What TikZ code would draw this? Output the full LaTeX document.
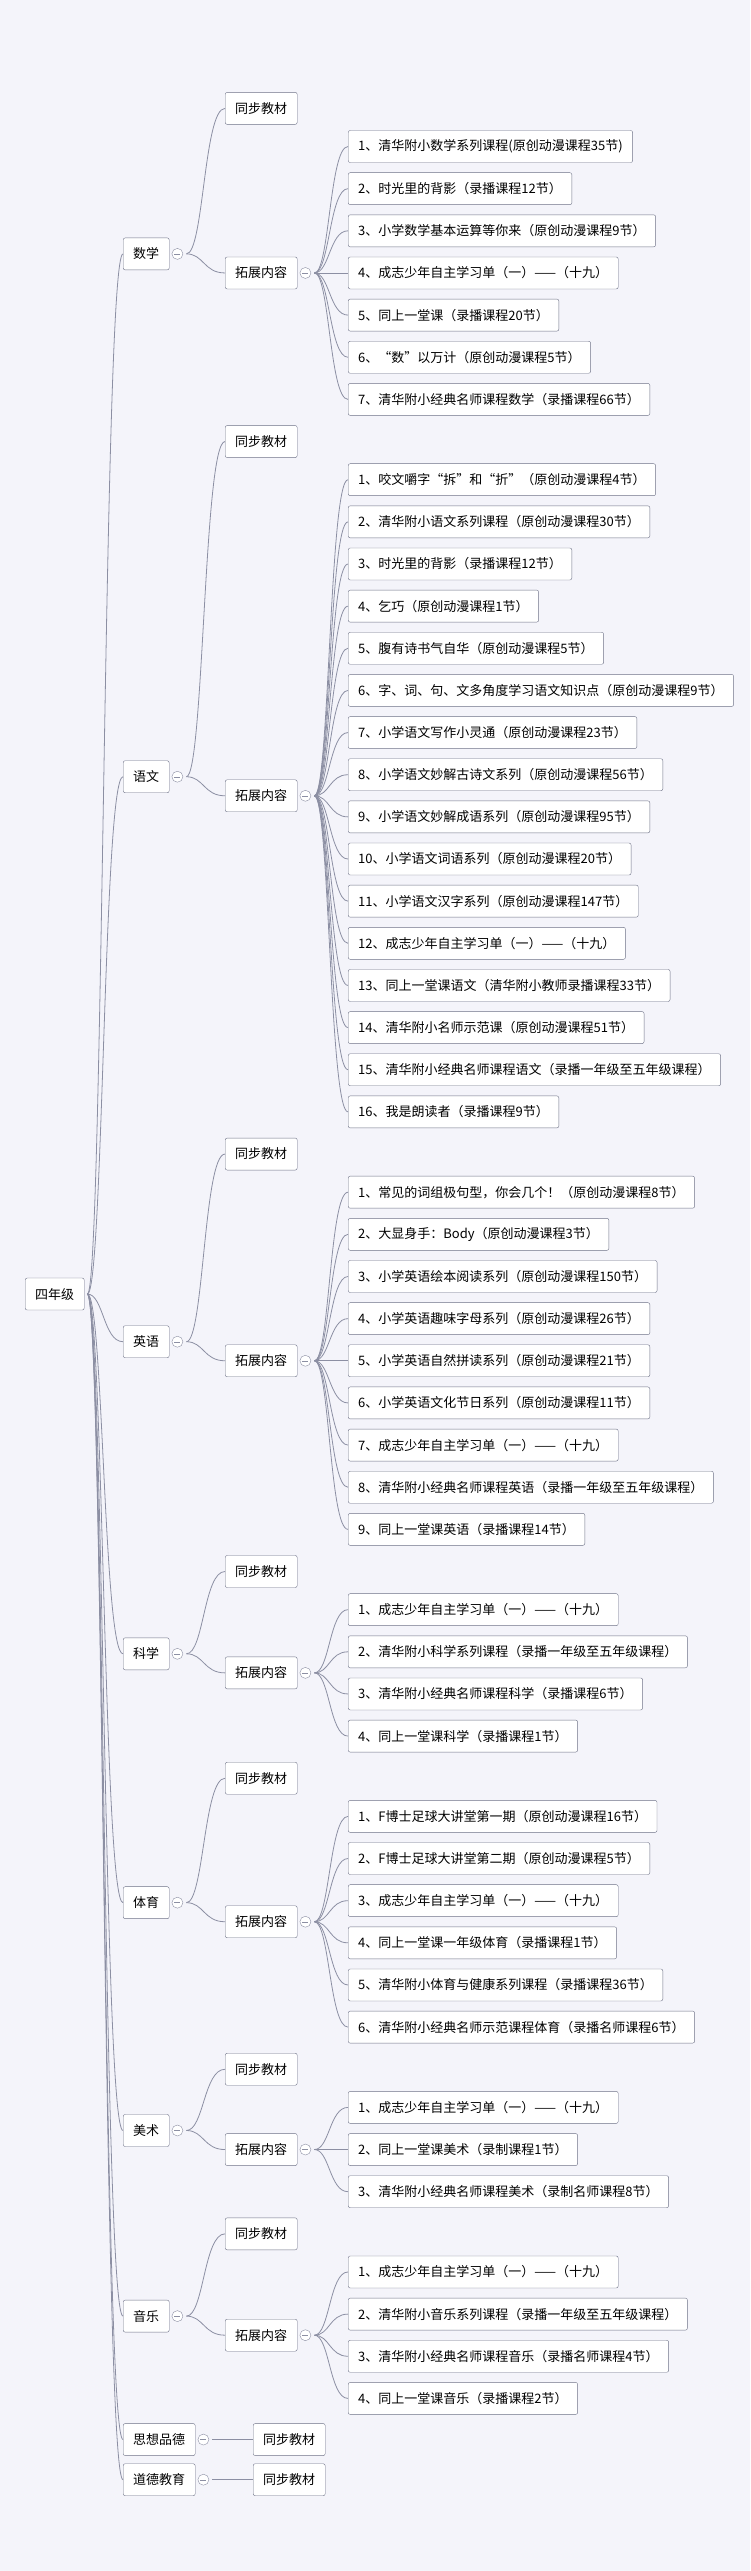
\documentclass[tikz,border=0pt]{standalone}
\usepackage{fontspec}
\newfontfamily\cjk{Noto Sans CJK SC}
\usetikzlibrary{calc}
\definecolor{paper}{HTML}{F4F4FA}
\definecolor{boxline}{HTML}{6E7287}
\definecolor{linkc}{HTML}{8C8FA3}
\tikzset{
  box/.style={draw=boxline, fill=white, rounded corners=2pt, anchor=west,
    minimum height=32, inner xsep=10, font=\cjk\fontsize{13}{13}\selectfont},
  fold/.style={draw=linkc, fill=white, circle, minimum size=11, inner sep=0pt,
    path picture={\draw[linkc] ([xshift=-3]path picture bounding box.center) -- ++(6,0);}},
  link/.style={draw=linkc, line width=0.8pt}
}
% curved connector from an out-point to a child box
\newcommand\bend[2]{\draw[link] let \p1=(#1), \p2=(#2.west) in
  (\p1) .. controls ({\x1+0.45*(\x2-\x1)},\y1) and ({\x1+0.45*(\x2-\x1)},\y2) .. (\p2);}
\newcommand\fold[1]{\path (#1.east) ++(8,0) node[fold] {} ++(9,0) coordinate (#1o);}
% id, name, y of subject, y of sync, y of extension
\newcommand\subject[5]{
  \node[box] (#1) at (123,#3) {#2}; \fold{#1}
  \node[box] (#1s) at (225,#4) {同步教材};
  \node[box] (#1x) at (225,#5) {拓展内容}; \fold{#1x}
  \bend{rooto}{#1} \bend{#1o}{#1s} \bend{#1o}{#1x}}
\newcommand\leaves[3]{
  \foreach \t [count=\i] in {#3} {
    \node[box] (#1-\i) at (348,{#2+42*(\i-1)}) {\t};
    \bend{#1xo}{#1-\i}
  }}
\begin{document}
\begin{tikzpicture}[x=1pt,y=-1.0035pt]
  \fill[paper] (0,0) rectangle (750,2562);
  \useasboundingbox (0,0) rectangle (750,2562);

  \node[box] (root) at (25,1289.5) {四年级};
  \coordinate (rooto) at ($(root.east)+(3,0)$);

  % 数学
  \subject{ma}{数学}{253}{108}{272}
  \leaves{ma}{146}{{1、清华附小数学系列课程(原创动漫课程35节)},{2、时光里的背影（录播课程12节）},
    {3、小学数学基本运算等你来（原创动漫课程9节）},{4、成志少年自主学习单（一）——（十九）},
    {5、同上一堂课（录播课程20节）},{6、“数”以万计（原创动漫课程5节）},
    {7、清华附小经典名师课程数学（录播课程66节）}}

  % 语文
  \subject{cn}{语文}{774}{440}{793}
  \leaves{cn}{478}{{1、咬文嚼字“拆”和“折”（原创动漫课程4节）},{2、清华附小语文系列课程（原创动漫课程30节）},
    {3、时光里的背影（录播课程12节）},{4、乞巧（原创动漫课程1节）},
    {5、腹有诗书气自华（原创动漫课程5节）},{6、字、词、句、文多角度学习语文知识点（原创动漫课程9节）},
    {7、小学语文写作小灵通（原创动漫课程23节）},{8、小学语文妙解古诗文系列（原创动漫课程56节）},
    {9、小学语文妙解成语系列（原创动漫课程95节）},{10、小学语文词语系列（原创动漫课程20节）},
    {11、小学语文汉字系列（原创动漫课程147节）},{12、成志少年自主学习单（一）——（十九）},
    {13、同上一堂课语文（清华附小教师录播课程33节）},{14、清华附小名师示范课（原创动漫课程51节）},
    {15、清华附小经典名师课程语文（录播一年级至五年级课程）},{16、我是朗读者（录播课程9节）}}

  % 英语
  \subject{en}{英语}{1337}{1150}{1356}
  \leaves{en}{1188}{{1、常见的词组极句型，你会几个！（原创动漫课程8节）},{2、大显身手：Body（原创动漫课程3节）},
    {3、小学英语绘本阅读系列（原创动漫课程150节）},{4、小学英语趣味字母系列（原创动漫课程26节）},
    {5、小学英语自然拼读系列（原创动漫课程21节）},{6、小学英语文化节日系列（原创动漫课程11节）},
    {7、成志少年自主学习单（一）——（十九）},{8、清华附小经典名师课程英语（录播一年级至五年级课程）},
    {9、同上一堂课英语（录播课程14节）}}

  % 科学
  \subject{sc}{科学}{1648}{1566}{1667}
  \leaves{sc}{1604}{{1、成志少年自主学习单（一）——（十九）},{2、清华附小科学系列课程（录播一年级至五年级课程）},
    {3、清华附小经典名师课程科学（录播课程6节）},{4、同上一堂课科学（录播课程1节）}}

  % 体育
  \subject{pe}{体育}{1896}{1772}{1915}
  \leaves{pe}{1810}{{1、F博士足球大讲堂第一期（原创动漫课程16节）},{2、F博士足球大讲堂第二期（原创动漫课程5节）},
    {3、成志少年自主学习单（一）——（十九）},{4、同上一堂课一年级体育（录播课程1节）},
    {5、清华附小体育与健康系列课程（录播课程36节）},{6、清华附小经典名师示范课程体育（录播名师课程6节）}}

  % 美术
  \subject{ar}{美术}{2123}{2062}{2142}
  \leaves{ar}{2100}{{1、成志少年自主学习单（一）——（十九）},{2、同上一堂课美术（录制课程1节）},
    {3、清华附小经典名师课程美术（录制名师课程8节）}}

  % 音乐
  \subject{mu}{音乐}{2308}{2226}{2327}
  \leaves{mu}{2264}{{1、成志少年自主学习单（一）——（十九）},{2、清华附小音乐系列课程（录播一年级至五年级课程）},
    {3、清华附小经典名师课程音乐（录播名师课程4节）},{4、同上一堂课音乐（录播课程2节）}}

  % 思想品德, 道德教育
  \node[box] (mo) at (123,2431) {思想品德}; \fold{mo}
  \node[box] (mos) at (253,2431) {同步教材};
  \node[box] (et) at (123,2471) {道德教育}; \fold{et}
  \node[box] (ets) at (253,2471) {同步教材};
  \bend{rooto}{mo} \bend{rooto}{et}
  \draw[link] (moo) -- (mos.west);
  \draw[link] (eto) -- (ets.west);
\end{tikzpicture}
\end{document}
